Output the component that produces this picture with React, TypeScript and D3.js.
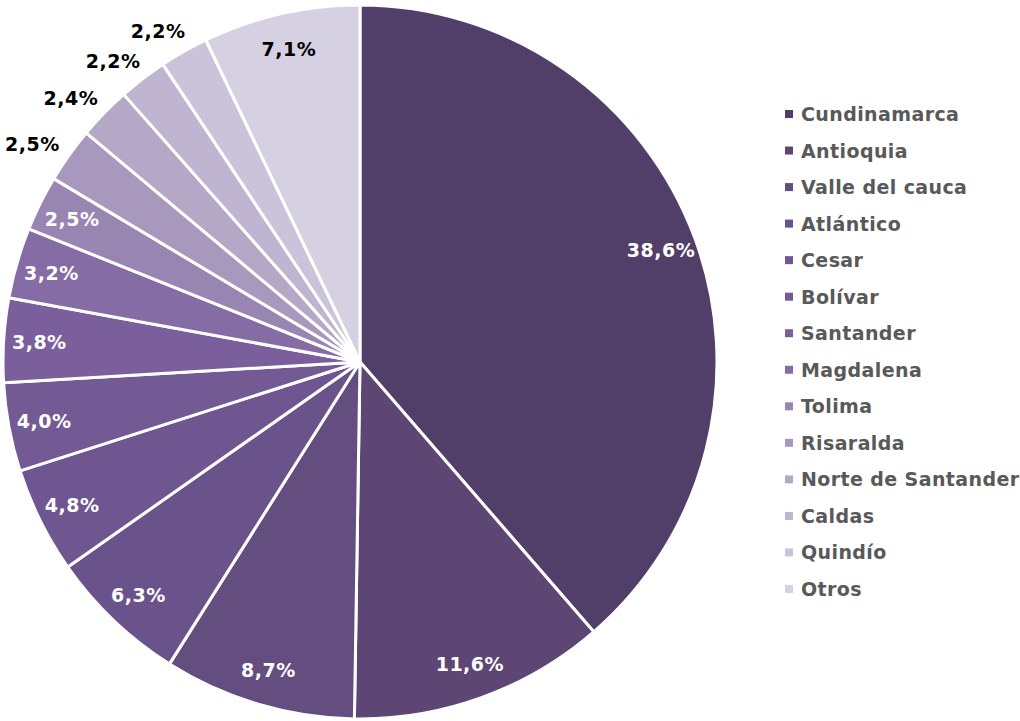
import React from "react";
import * as d3 from "d3";

const categories = [
  "Cundinamarca", "Antioquia", "Valle del cauca", "Atlántico", "Cesar", "Bolívar",
  "Santander", "Magdalena", "Tolima", "Risaralda", "Norte de Santander", "Caldas",
  "Quindío", "Otros",
];
const values = [38.6, 11.6, 8.7, 6.3, 4.8, 4.0, 3.8, 3.2, 2.5, 2.5, 2.4, 2.2, 2.2, 7.1];
const colors = [
  "#523f69", "#5d4673", "#644d7f", "#6a528a", "#6f5690", "#745a95", "#7b5f9c",
  "#866ca4", "#9985b2", "#a898bd", "#b4a8c6", "#c0b5d0", "#cbc3d9", "#d6d1e2",
];
const outsideLabels = ["Risaralda", "Norte de Santander", "Caldas", "Quindío"];
const darkInsideLabels = ["Otros"];

const W = 1020;
const H = 721;
const FONT = "'DejaVu Sans', Verdana, sans-serif";

export default function App() {
  const cx = 360, cy = 362, R = 357;
  const pie = d3.pie<number>().value((d) => d).sort(null);
  const arcs = pie(values);
  const arc = d3.arc<d3.PieArcDatum<number>>().innerRadius(0).outerRadius(R);
  const inArc = d3.arc<d3.PieArcDatum<number>>().innerRadius(R * 0.9).outerRadius(R * 0.9);
  const outArc = d3.arc<d3.PieArcDatum<number>>().innerRadius(R + 34).outerRadius(R + 34);
  const fmt = (v: number) => d3.format(".1f")(v).replace(".", ",") + "%";
  const legendY = d3.scalePoint<string>().domain(categories).range([114, 589]);

  return (
    <svg width={W} height={H} style={{ position: "absolute", left: 0, top: 0 }}>
      <rect width={W} height={H} fill="#ffffff" />
      <g transform={`translate(${cx},${cy})`}>
        {arcs.map((a, i) => (
          <path key={i} d={arc(a) || ""} fill={colors[i]} stroke="#ffffff" strokeWidth={3} strokeLinejoin="round" />
        ))}
        {arcs.map((a, i) => {
          const out = outsideLabels.includes(categories[i]);
          let [x, y] = out ? outArc.centroid(a) : inArc.centroid(a);
          if (out) { x -= 9; y += 9; }
          const fill = out || darkInsideLabels.includes(categories[i]) ? "#000000" : "#ffffff";
          return (
            <text key={i} x={x} y={y} textAnchor="middle" dominantBaseline="central"
              fontFamily={FONT} fontWeight="bold" fontSize={19} letterSpacing={0.5} fill={fill}>
              {fmt(values[i])}
            </text>
          );
        })}
      </g>
      <g>
        {categories.map((c, i) => (
          <g key={c} transform={`translate(0,${legendY(c)})`}>
            <rect x={785} y={-4} width={8} height={8} fill={colors[i]} />
            <text x={801} y={0} dominantBaseline="central" fontFamily={FONT} fontWeight="bold"
              fontSize={19} letterSpacing={0.4} fill="#595959">{c}</text>
          </g>
        ))}
      </g>
    </svg>
  );
}
